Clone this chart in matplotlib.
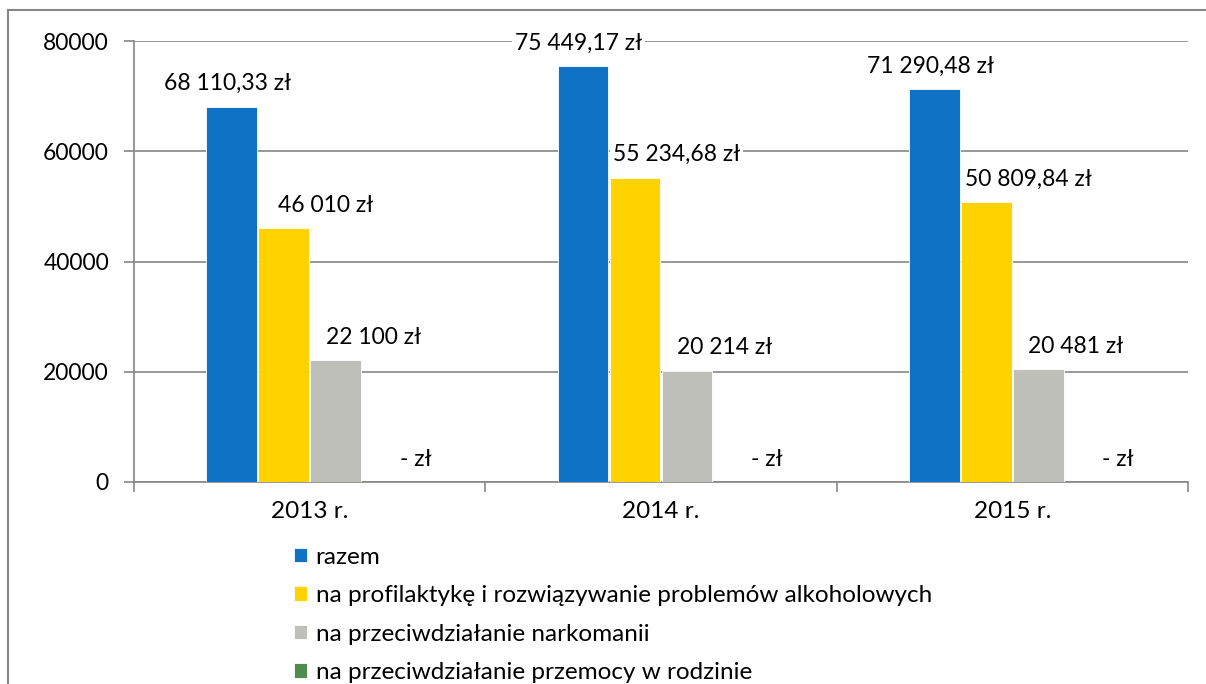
import matplotlib
matplotlib.use("Agg")
import matplotlib.pyplot as plt
from matplotlib.lines import Line2D
import numpy as np

plt.rcParams['font.family'] = ['Lato', 'DejaVu Sans']

categories = ["2013 r.", "2014 r.", "2015 r."]
series_names = [
    "razem",
    "na profilaktykę i rozwiązywanie problemów alkoholowych",
    "na przeciwdziałanie narkomanii",
    "na przeciwdziałanie przemocy w rodzinie",
]
razem = [68110.33, 75449.17, 71290.48]
alkohol = [46010, 55234.68, 50809.84]
narkomania = [22100, 20214, 20481]
przemoc = [0, 0, 0]
series_values = [razem, alkohol, narkomania, przemoc]
colors = ["#1072C4", "#FFD200", "#BFBFBA", "#4F8A4F"]
yticks = [0, 20000, 40000, 60000, 80000]


def fmt(v):
    if v == 0:
        return "- zł"
    whole = int(v)
    s = f"{whole:,}".replace(",", " ")
    frac = round((v - whole) * 100)
    if frac:
        s += f",{frac:02d}"
    return s + " zł"


W, H = 1206, 684
fig = plt.figure(figsize=(W / 100, H / 100), dpi=100)
ax = fig.add_axes([134 / W, 1 - 482 / H, (1188 - 134) / W, (482 - 41) / H])

FS = 16.5
FS_TXT = 17.5
grid_c = "#868686"
x = np.arange(len(categories))
bw = 52 / 351
label_dx = [-3, 30, 27, 20]  # points offset for labels

for i, (name, vals, c) in enumerate(zip(series_names, series_values, colors)):
    pos = x + (i - 1.5) * bw
    ax.bar(pos, vals, width=bw * 0.97, color=c, label=name,
           edgecolor="white", linewidth=0.6, zorder=3)
    for p, v in zip(pos, vals):
        ax.annotate(fmt(v), (p, v), xytext=(label_dx[i], 9),
                    textcoords="offset points", ha="center", va="bottom",
                    fontsize=FS, color="black", zorder=5,
                    bbox=dict(facecolor="white", edgecolor="none", pad=2))

ax.set_xlim(-0.5, len(categories) - 0.5)
ax.set_ylim(0, 80000)
ax.set_yticks(yticks)
ax.set_yticklabels([str(t) for t in yticks], fontsize=FS)
ax.yaxis.grid(True, color=grid_c, linewidth=1.2, zorder=0)
ax.set_axisbelow(True)

ax.set_xticks(np.arange(len(categories) + 1) - 0.5)
ax.set_xticklabels([])
ax.set_xticks(x, minor=True)
ax.set_xticklabels(categories, minor=True, fontsize=FS_TXT)
ax.tick_params(axis="x", which="minor", length=0, pad=14)
ax.tick_params(axis="x", which="major", length=7, width=1.2, color=grid_c)
ax.tick_params(axis="y", length=7, width=1.2, color=grid_c, pad=11)

for s in ["top", "right"]:
    ax.spines[s].set_visible(False)
for s in ["left", "bottom"]:
    ax.spines[s].set_color(grid_c)
    ax.spines[s].set_linewidth(1.2)

handles, labels = ax.get_legend_handles_labels()
fig.legend(handles, labels, loc="upper left",
           bbox_to_anchor=(284 / W, 1 - 537 / H), frameon=False,
           fontsize=FS_TXT, ncol=1, handlelength=0.55, handleheight=0.55,
           handletextpad=0.35, labelspacing=0.72, borderaxespad=0)

# chart area border (left and top visible)
fig.add_artist(Line2D([8 / W, 8 / W], [0, 1 - 10 / H], transform=fig.transFigure,
                      color=grid_c, linewidth=1.5))
fig.add_artist(Line2D([8 / W, 1], [1 - 10 / H, 1 - 10 / H], transform=fig.transFigure,
                      color=grid_c, linewidth=1.5))

fig.savefig("out.png", dpi=100)
